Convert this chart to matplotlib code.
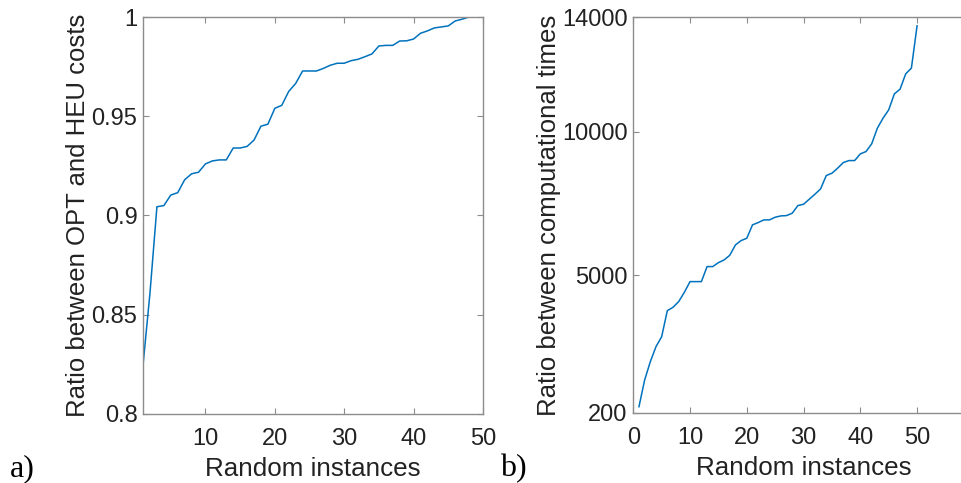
import numpy as np
import matplotlib
matplotlib.use('Agg')
import matplotlib.pyplot as plt

plt.rcParams['font.family'] = ['Liberation Sans', 'DejaVu Sans']

# Panel a): ratio between OPT and HEU costs, sorted over 50 random instances
instances = np.arange(1, 51)
cost_ratio = [0.8247, 0.861, 0.9044, 0.905, 0.9103, 0.9115, 0.918, 0.921, 0.9218, 0.926,
              0.9275, 0.928, 0.928, 0.934, 0.934, 0.9348, 0.938, 0.945, 0.946, 0.954,
              0.9555, 0.9625, 0.9665, 0.9728, 0.9728, 0.9728, 0.9741, 0.9757, 0.9767, 0.9767,
              0.978, 0.9787, 0.980, 0.9814, 0.9854, 0.9857, 0.9857, 0.9879, 0.988, 0.9889,
              0.9918, 0.993, 0.9945, 0.995, 0.9955, 0.998, 0.9989, 1.0, 1.0, 1.0]

# Panel b): ratio between computational times
time_ratio = [409, 1340, 1981, 2505, 2853, 3762, 3878, 4076, 4402, 4774,
              4774, 4774, 5298, 5298, 5436, 5530, 5693, 6054, 6205, 6287,
              6753, 6834, 6927, 6927, 7020, 7066, 7077, 7159, 7427, 7473,
              7648, 7822, 8008, 8474, 8555, 8730, 8927, 8997, 8997, 9230,
              9311, 9579, 10126, 10475, 10766, 11324, 11487, 12023, 12221, 13698]

LINE = '#0072BD'
SPINE = '#8c8c8c'
TXT = '#222222'
FS = 17


def style_axes(ax):
    for s in ax.spines.values():
        s.set_color(SPINE)
        s.set_linewidth(1.0)
    ax.tick_params(direction='in', top=True, right=True, length=4,
                   color=SPINE, labelsize=FS, labelcolor=TXT)
    ax.tick_params(axis='x', pad=10)
    ax.tick_params(axis='y', pad=4)


fig = plt.figure(figsize=(9.62, 4.83), dpi=100)

ax1 = fig.add_axes([0.1487, 0.1429, 0.3533, 0.8219])
ax1.plot(instances, cost_ratio, color=LINE, lw=1.1)
ax1.set_xlim(1, 50)
ax1.set_ylim(0.8, 1)
ax1.set_xticks([10, 20, 30, 40, 50])
ax1.set_yticks([0.8, 0.85, 0.9, 0.95, 1])
ax1.set_yticklabels(['0.8', '0.85', '0.9', '0.95', '1'])
ax1.set_xlabel('Random instances', fontsize=18.7, color=TXT, labelpad=5)
ax1.set_ylabel('Ratio between OPT and HEU costs', fontsize=18.5, color=TXT, labelpad=1)
style_axes(ax1)

ax2 = fig.add_axes([0.6583, 0.1455, 0.354, 0.819])
ax2.plot(instances, time_ratio, color=LINE, lw=1.1)
ax2.set_xlim(0, 60)
ax2.set_ylim(200, 14000)
ax2.set_xticks([0, 10, 20, 30, 40, 50])
ax2.set_yticks([200, 5000, 10000, 14000])
ax2.set_xlabel('Random instances', fontsize=18.7, color=TXT, labelpad=5)
ax2.set_ylabel('Ratio between computational times', fontsize=18.5, color=TXT, labelpad=1)
style_axes(ax2)

fig.text(10 / 962, 1 - 476 / 483, 'a)', family=['Liberation Serif', 'DejaVu Serif'],
         fontsize=23, va='baseline', ha='left')
fig.text(500 / 962, 1 - 476 / 483, 'b)', family=['Liberation Serif', 'DejaVu Serif'],
         fontsize=23, va='baseline', ha='left')

fig.savefig('out.png', dpi=100)
